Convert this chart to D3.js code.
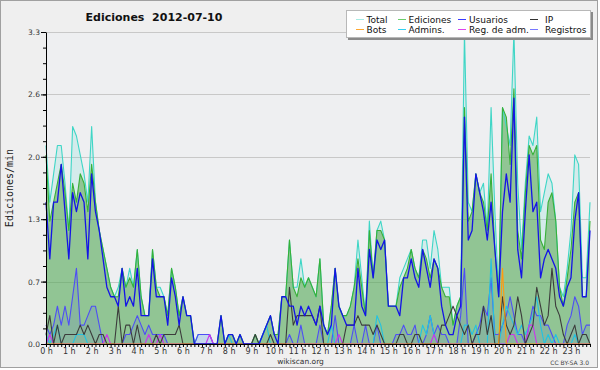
<!DOCTYPE html>
<html><head><meta charset="utf-8">
<script src="https://cdn.jsdelivr.net/npm/d3@7"></script>
<style>
html,body{margin:0;padding:0;background:#fff;}
svg{display:block;font-family:"DejaVu Sans",sans-serif;}
</style>
</head><body>
<svg id="c" width="600" height="370"></svg>
<script>
// ---- data: 144 ten-minute slots, values in edits/min ----
const slots = d3.range(144);
const hourLabels = d3.range(24).map(h => h + " h");
const yTicks = [0, 0.66, 1.32, 1.98, 2.64, 3.3];
const seriesNames = ["Total","Ediciones","Usuarios","IP","Bots","Admins.","Reg. de adm.","Registros"];

const total = [
 2.1,1.5,1.8,2.1,2.1,1.7,1.2,2.3,2.2,2.0,1.8,1.5,
 2.3,1.5,1.2,1.0,0.8,0.6,0.5,0.6,0.8,0.6,0.8,0.6,
 1.0,0.5,0.3,0.3,1.0,0.6,0.6,0.5,0.3,0.8,0.6,0.3,
 0.5,0.3,0.3,0,0.1,0.1,0.1,0.1,0,0,0.3,0,
 0.1,0.1,0,0.1,0,0,0,0.1,0,0.1,0.2,0.3,
 0.1,0.1,0.5,0.5,1.1,0.6,0.6,0.9,0.6,0.7,0.6,0.5,
 0.9,0.2,0.1,0.4,0.8,0.4,0.3,0.3,0.4,0.6,1.1,0.7,
 0.3,1.3,0.7,1.2,1.3,1.1,0.4,0.4,0.4,0.7,0.8,0.9,
 1.0,0.8,0.7,1.1,1.1,0.8,1.2,1.0,0.6,0.6,0.6,0.2,
 0.4,0.5,3.3,1.5,1.4,1.8,1.6,1.7,1.2,2.5,1.4,0.5,
 2.5,2.3,2.1,3.3,1.7,1.0,1.7,2.2,2.1,2.4,1.4,1.6,
 1.8,1.7,1.3,0.6,0.5,0.8,1.2,2.0,1.9,0.7,0.7,1.5];

const ediciones = [
 2.0,1.3,1.5,1.7,1.9,1.6,1.2,1.7,1.5,1.8,1.7,1.4,
 1.9,1.5,1.2,1.0,0.8,0.6,0.5,0.5,0.8,0.6,0.7,0.6,
 1.0,0.5,0.3,0.3,1.0,0.6,0.5,0.5,0.3,0.8,0.6,0.3,
 0.5,0.3,0.3,0,0,0,0,0,0,0,0.3,0,
 0.1,0.1,0,0.1,0,0,0,0.1,0,0.1,0.2,0.3,
 0.1,0.1,0.5,0.5,1.1,0.6,0.5,0.7,0.6,0.7,0.6,0.5,
 0.9,0.2,0.1,0.4,0.8,0.4,0.3,0.3,0.4,0.6,0.9,0.6,
 0.3,1.2,0.7,1.2,1.2,1.1,0.4,0.4,0.4,0.6,0.7,0.8,
 1.0,0.8,0.7,1.0,0.9,0.7,0.9,0.8,0.6,0.5,0.5,0.2,
 0.4,0.5,2.5,1.3,1.4,1.8,1.6,1.5,1.2,1.8,1.0,0.5,
 2.5,2.4,1.9,2.7,1.2,0.9,1.6,2.1,2.0,2.1,1.1,1.0,
 1.5,1.6,1.3,0.6,0.4,0.7,1.0,1.5,1.6,0.5,0.5,1.3];

const usuarios = [
 1.5,0.9,1.5,1.5,1.9,1.4,0.9,1.6,1.4,1.6,1.5,0.9,
 1.8,1.4,1.2,0.9,0.6,0.5,0.5,0.4,0.8,0.4,0.5,0.4,
 0.8,0.3,0.3,0.3,0.9,0.5,0.5,0.5,0.2,0.7,0.5,0.2,
 0.5,0.3,0.3,0,0,0,0,0,0,0,0.3,0,
 0.1,0.1,0,0.1,0,0,0,0,0,0.1,0.2,0.3,
 0.1,0,0.5,0.5,0.4,0.4,0.2,0.4,0.3,0.4,0.3,0.2,
 0.4,0.2,0.1,0.2,0.8,0.4,0.3,0.2,0.2,0.2,0.8,0.4,
 0.3,1.0,0.7,1.1,1.0,1.1,0.4,0.4,0.4,0.3,0.7,0.7,
 0.9,0.7,0.6,1.0,0.8,0.6,0.9,0.8,0.4,0.2,0.1,0.1,
 0.3,0.4,2.4,1.1,1.2,1.8,1.6,1.4,1.1,1.5,1.0,0.5,
 1.4,1.8,1.5,2.6,1.0,0.7,1.4,2.0,1.4,1.5,0.7,0.9,
 1.0,0.9,0.8,0.5,0.4,0.6,0.7,1.3,1.6,0.5,0.5,1.2];

const ip = [
 0.1,0.3,0,0.2,0,0.1,0.1,0.1,0.1,0.2,0.1,0.2,
 0.1,0,0.1,0.1,0,0,0,0.4,0,0.2,0.2,0,
 0.2,0,0,0,0,0.1,0,0.1,0.1,0.1,0.1,0.2,
 0,0,0,0,0,0,0,0,0,0,0,0,
 0,0,0,0,0,0,0,0.1,0,0,0,0.1,
 0,0,0,0,0.6,0.2,0.3,0.3,0.3,0.3,0.3,0.2,
 0.4,0,0,0,0,0,0,0.2,0.2,0.2,0.3,0.2,
 0.2,0.2,0.1,0.2,0.1,0,0,0,0,0.1,0.1,0,
 0,0.1,0.1,0,0,0,0,0,0.2,0.2,0.3,0.4,
 0.3,0.2,0.1,0.2,0,0.1,0.1,0.4,0.1,0.3,0,0,
 0.5,0.2,0.1,0.2,0.5,0.3,0,0.1,0.2,0.6,0.4,0.2,
 0.3,0.8,0.4,0.3,0.1,0,0.1,0.2,0,0.1,0.1,0];

const bots = [
 0,0,0,0,0,0,0,0,0,0,0,0, 0,0,0,0,0,0,0,0,0,0,0,0,
 0,0,0,0,0,0,0,0,0,0,0,0, 0,0,0,0,0,0,0,0,0,0,0,0,
 0,0,0,0,0,0,0,0,0,0,0,0, 0,0,0,0,0,0,0,0,0,0,0,0,
 0,0,0,0,0,0,0,0,0,0,0,0, 0,0,0,0,0,0,0,0,0,0,0,0,
 0,0,0,0,0,0,0,0,0,0,0,0, 0,0,0,0,0,0,0,0,0,0,0,0,
 0.8,0,0,0,0,0,0,0,0,0,0,0, 0,0,0,0,0,0,0,0,0,0,0,0];

const admins = [
 0.1,0,0.1,0.2,0,0,0,0,0.1,0.1,0.1,0,
 0,0,0,0,0,0,0,0,0,0,0,0,
 0,0,0,0,0,0,0,0,0,0,0,0,
 0,0,0,0,0,0,0,0,0,0,0,0,
 0.1,0,0,0,0,0,0,0,0,0.1,0.2,0,
 0,0,0,0,0,0,0,0,0,0,0,0,
 0,0,0,0.2,0,0,0,0,0,0,0,0,
 0,0,0,0.3,0.2,0,0,0,0,0,0,0,
 0,0,0,0.2,0.1,0.3,0.1,0,0,0,0,0,
 0,0,0.2,0.2,0.1,0.2,0,0,0,0.9,0,0,
 0.2,0.4,0.3,0.2,0.1,0.2,0.1,0.2,0.3,0.5,0.2,0,
 0.1,0,0.1,0,0,0,0,0.1,0,0,0,0];

const regAdm = [
 0,0.1,0,0,0,0,0,0,0,0,0,0,
 0,0,0,0,0.1,0,0,0,0,0,0,0,
 0,0,0,0.1,0,0,0.1,0,0,0,0,0,
 0,0,0,0,0,0,0,0.1,0,0,0,0,
 0,0,0,0,0,0,0,0,0,0,0,0,
 0,0,0,0,0,0,0,0,0,0,0,0,
 0,0,0,0,0,0.1,0,0,0,0,0,0,
 0,0,0,0,0,0,0,0,0,0,0,0,
 0,0,0,0,0,0,0.1,0,0,0,0,0,
 0,0,0,0,0,0,0,0,0,0,0,0,
 0,0,0.1,0.1,0,0,0,0.2,0.2,0,0,0,
 0,0,0,0,0,0,0,0,0,0,0,0];

const registros = [
 0.2,0.1,0.2,0.4,0.2,0.4,0.2,0.5,0.8,0.2,0.2,0.3,
 0.4,0.4,0.2,0,0,0,0,0,0,0.1,0.1,0.2,
 0.3,0.2,0.1,0.2,0.1,0.1,0.1,0.1,0,0,0,0,
 0,0,0,0,0.1,0.1,0.1,0.1,0,0,0,0,
 0,0,0,0,0,0,0,0,0,0,0,0,
 0,0,0,0,0.1,0,0,0.2,0,0,0,0,
 0.2,0,0,0,0.3,0,0,0,0,0.2,0,0,
 0.2,0,0,0.2,0,0,0,0,0.1,0.1,0.2,0.1,
 0.1,0.2,0,0,0.1,0.3,0.1,0.2,0.1,0.1,0,0,
 0,0.3,0.8,0,0,0.1,0.2,0.4,0.3,0.7,0.1,0.1,
 0.2,0.3,0.5,0.3,0.1,0.1,0,0.2,0.4,0.3,0.3,0.2,
 0.2,0.1,0,0,0,0.2,0.3,0.5,0.4,0.1,0.2,0.2];

// ---- styles ----
const lineColor = {
  "Total":"#3fd6c6","Ediciones":"#38b038","Usuarios":"#1414e6","IP":"#3c3c3c",
  "Bots":"#ff9a10","Admins.":"#22c2e2","Reg. de adm.":"#cc33ee","Registros":"#4e4ef5"
};
const legendColor = {
  "Total":"#a6ece4","Ediciones":"#6ccc6c","Usuarios":"#3a3aff","IP":"#333333",
  "Bots":"#ffa830","Admins.":"#33d0f0","Reg. de adm.":"#dd44ee","Registros":"#7777ff"
};
const seriesData = {
  "Total":total,"Ediciones":ediciones,"Usuarios":usuarios,"IP":ip,
  "Bots":bots,"Admins.":admins,"Reg. de adm.":regAdm,"Registros":registros
};

const svg = d3.select("#c");
const x = d3.scaleLinear().domain([0, 143/6]).range([46, 590]);
const y = d3.scaleLinear().domain([0, 3.3]).range([344, 32]);
const xi = i => x(slots[i] / 6);

// frame
svg.append("rect").attr("x",0.5).attr("y",0.5).attr("width",597).attr("height",367)
  .attr("fill","#efefef").attr("stroke","#a0a0a0");
// plot background
svg.append("rect").attr("x",46).attr("y",32).attr("width",544).attr("height",312)
  .attr("fill","#eeeff1");

// gridlines
svg.append("g").selectAll("line").data(yTicks.slice(1)).join("line")
  .attr("x1",46).attr("x2",590).attr("y1",d=>Math.round(y(d))+0.5).attr("y2",d=>Math.round(y(d))+0.5)
  .attr("stroke","#c8c8c8").attr("stroke-width",1);

// fills
const area = d3.area().x((d,i)=>xi(i)).y0(y(0)).y1(d=>y(d));
svg.append("path").attr("d",area(total)).attr("fill","rgba(64,214,198,0.15)");
svg.append("path").attr("d",area(ediciones)).attr("fill","rgba(78,160,62,0.5)");
svg.append("path").attr("d",area(registros)).attr("fill","rgba(60,60,255,0.1)");

// lines
const line = d3.line().x((d,i)=>xi(i)).y(d=>y(d));
const drawOrder = ["Total","Ediciones","Registros","Admins.","Reg. de adm.","IP","Bots","Usuarios"];
drawOrder.forEach(name => {
  svg.append("path").attr("d", line(seriesData[name]))
    .attr("fill","none").attr("stroke", lineColor[name])
    .attr("stroke-width", name==="Usuarios" ? 1.3 : 1.1)
    .attr("stroke-linejoin","round");
});

// y axis
const yAxis = svg.append("g").attr("transform","translate(46,0)")
  .call(d3.axisLeft(y).tickValues(yTicks).tickSize(5).tickSizeOuter(0).tickPadding(1)
    .tickFormat(d3.format(".1f")));
svg.append("g").attr("transform","translate(46,0)")
  .call(d3.axisLeft(y).tickValues(d3.range(0, 21).map(k => k*0.165)).tickSize(3).tickSizeOuter(0).tickFormat(""))
  .select(".domain").remove();
yAxis.selectAll("text").attr("font-size","7.5px").attr("fill","#333").attr("font-family","DejaVu Sans");
yAxis.select(".domain").attr("stroke","#000");

// x axis
const xAxis = svg.append("g").attr("transform","translate(0,344)")
  .call(d3.axisBottom(x).tickValues(slots.map(i=>i/6)).tickSize(3).tickSizeOuter(0).tickPadding(1)
    .tickFormat(d => Number.isInteger(d) ? hourLabels[d] : ""));
xAxis.selectAll("text").attr("font-size","8px").attr("fill","#333").attr("font-family","DejaVu Sans");
xAxis.select(".domain").attr("stroke","#000");

// title & labels
svg.append("text").attr("x",154).attr("y",21).attr("text-anchor","middle")
  .attr("font-size","11px").attr("font-weight","bold").attr("fill","#111")
  .attr("xml:space","preserve").style("white-space","pre").text("Ediciones  2012-07-10");
svg.append("text").attr("transform","translate(13,188) rotate(-90)").attr("text-anchor","middle")
  .attr("font-family","DejaVu Sans Mono").attr("font-size","10px").attr("fill","#222").text("Ediciones/min");
svg.append("text").attr("x",300.5).attr("y",363.5).attr("text-anchor","middle")
  .attr("font-size","7.5px").attr("fill","#333").text("wikiscan.org");
svg.append("text").attr("x",589).attr("y",365).attr("text-anchor","end")
  .attr("font-size","6px").attr("fill","#444").text("CC BY-SA 3.0");

// legend
const lg = svg.append("g");
lg.append("rect").attr("x",348).attr("y",12).attr("width",245).attr("height",28).attr("fill","#8a8a8a");
lg.append("rect").attr("x",346.5).attr("y",10.5).attr("width",244).attr("height",27)
  .attr("fill","#ffffff").attr("stroke","#b8b8b8");
const colLine = [356, 398, 458, 530];
const colText = [366.5, 408.5, 469, 545];
const rowY = [19.5, 29.5];
const legendOrder = ["Total","Ediciones","Usuarios","IP","Bots","Admins.","Reg. de adm.","Registros"];
legendOrder.forEach((name, k) => {
  const c = k % 4, r = Math.floor(k / 4);
  lg.append("line").attr("x1",colLine[c]).attr("x2",colLine[c]+8)
    .attr("y1",rowY[r]).attr("y2",rowY[r]).attr("stroke",legendColor[name]).attr("stroke-width",1);
  lg.append("text").attr("x",colText[c]).attr("y",rowY[r]+3.2)
    .attr("font-size","9px").attr("fill","#111").text(name);
});
</script>
</body></html>
